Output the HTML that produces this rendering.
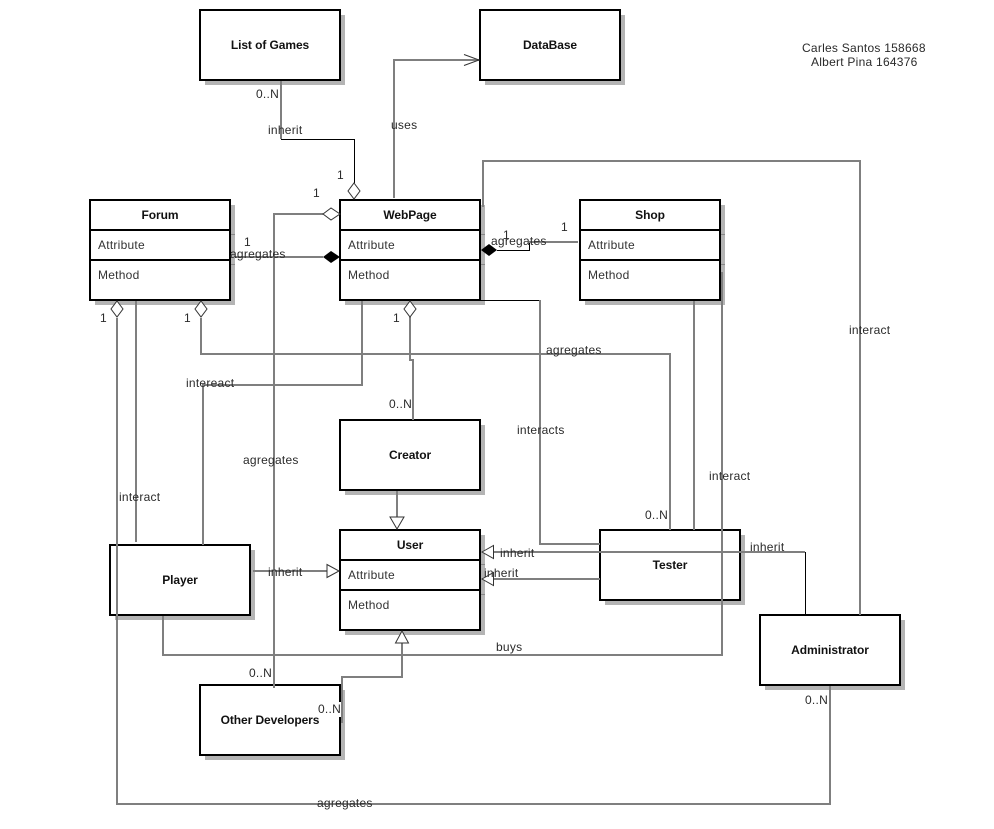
<!DOCTYPE html>
<html><head><meta charset="utf-8"><style>
html,body{margin:0;padding:0;background:#fff;width:994px;height:829px;overflow:hidden}
svg{display:block}
text{font-family:"Liberation Sans",Arial,sans-serif;font-size:12px;fill:#2a2a2a;letter-spacing:.25px}
.b{font-weight:bold;fill:#111;letter-spacing:-.08px;text-anchor:middle}
.a{fill:#333}
.s{fill:#b4b4b4;stroke:none}
.r{fill:#fff;stroke:#000;stroke-width:2}
.l{fill:none;stroke:#7f7f7f;stroke-width:2;shape-rendering:crispEdges}
.t{fill:none;stroke:#000;stroke-width:1}
.h{fill:#fff;stroke:#333;stroke-width:1}
.k{stroke:#888;stroke-width:1}
</style></head><body>
<svg width="994" height="829" viewBox="0 0 994 829" xmlns="http://www.w3.org/2000/svg">
<rect width="994" height="829" fill="#fff"/>
<!-- shadows -->
<rect class="s" x="205" y="15" width="140" height="70"/>
<rect class="s" x="485" y="15" width="140" height="70"/>
<rect class="s" x="95" y="205" width="140" height="100"/>
<rect class="s" x="345" y="205" width="140" height="100"/>
<rect class="s" x="585" y="205" width="140" height="100"/>
<rect class="s" x="345" y="425" width="140" height="70"/>
<rect class="s" x="345" y="535" width="140" height="100"/>
<rect class="s" x="605" y="535" width="140" height="70"/>
<rect class="s" x="115" y="550" width="140" height="70"/>
<rect class="s" x="205" y="690" width="140" height="70"/>
<rect class="s" x="765" y="620" width="140" height="70"/>
<!-- shadow ticks -->
<path class="k" d="M230 234.500H235M230 264.500H235M480 234.500H485M480 264.500H485M720 234.500H725M720 264.500H725M480 564.500H485M480 594.500H485"/>
<!-- boxes -->
<rect class="r" x="200" y="10" width="140" height="70"/>
<rect class="r" x="480" y="10" width="140" height="70"/>
<rect class="r" x="90" y="200" width="140" height="100"/>
<path d="M90 230H230M90 260H230" stroke="#000" stroke-width="2"/>
<rect class="r" x="340" y="200" width="140" height="100"/>
<path d="M340 230H480M340 260H480" stroke="#000" stroke-width="2"/>
<rect class="r" x="580" y="200" width="140" height="100"/>
<path d="M580 230H720M580 260H720" stroke="#000" stroke-width="2"/>
<rect class="r" x="340" y="420" width="140" height="70"/>
<rect class="r" x="340" y="530" width="140" height="100"/>
<path d="M340 560H480M340 590H480" stroke="#000" stroke-width="2"/>
<rect class="r" x="600" y="530" width="140" height="70"/>
<rect class="r" x="110" y="545" width="140" height="70"/>
<rect class="r" x="200" y="685" width="140" height="70"/>
<rect class="r" x="760" y="615" width="140" height="70"/>
<!-- connectors -->
<path class="l" d="M281 81V139"/>
<path class="t" d="M281 139.500H354.500V183"/>
<path class="l" d="M394 198V60H479"/>
<path fill="none" stroke="#333" stroke-width="1" d="M464 54.500L479 60L464 65.500"/>
<path class="l" d="M323 214H274V688"/>
<path class="l" d="M235 257H323"/>
<path class="t" d="M497 250.500H529.500V242"/>
<path class="l" d="M529 242H578"/>
<path class="t" d="M480 300.500H540"/>
<path class="l" d="M540 300V544H600"/>
<path class="l" d="M483 207V161H860V615"/>
<path class="l" d="M117 318V804H830V686"/>
<path class="l" d="M201 318V354H670V530"/>
<path class="l" d="M136 301V542"/>
<path class="l" d="M362 301V385H203V545"/>
<path class="l" d="M410 317V360H413V420"/>
<path class="l" d="M397 491V517"/>
<path class="l" d="M253 571H327"/>
<path class="l" d="M493 552H805"/>
<path class="t" d="M805.500 552V615"/>
<path class="l" d="M493 579H600"/>
<path class="l" d="M694 301V530"/>
<path class="l" d="M722 272V655H163V616"/>
<path class="l" d="M402 643V677H342V723"/>
<!-- white gap on Other Developers border -->
<rect x="339" y="702" width="2" height="15" fill="#fff"/>
<!-- diamonds -->
<polygon class="h" points="354,183 360,191 354,199 348,191"/>
<polygon class="h" points="323,214 331,208 340,214 331,220"/>
<polygon points="323,257 331,251 340,257 331,263" fill="#000"/>
<polygon points="481,250 489,244 497,250 489,256" fill="#000"/>
<polygon class="h" points="117,301 123,309 117,317 111,309"/>
<polygon class="h" points="201,301 207,309 201,317 195,309"/>
<polygon class="h" points="410,301 416,309 410,317 404,309"/>
<!-- triangles -->
<polygon class="h" points="390,517 404,517 397,529"/>
<polygon class="h" points="327,564.500 327,577.500 339,571"/>
<polygon class="h" points="482,552 493.500,545.500 493.500,558.500"/>
<polygon class="h" points="482,579 493.500,572.500 493.500,585.500"/>
<polygon class="h" points="402,631 395.500,643 408.500,643"/>
<!-- names -->
<text class="b" x="270" y="49">List of Games</text>
<text class="b" x="550" y="49">DataBase</text>
<text class="b" x="160" y="219">Forum</text>
<text class="b" x="410" y="219">WebPage</text>
<text class="b" x="650" y="219">Shop</text>
<text class="b" x="410" y="459">Creator</text>
<text class="b" x="410" y="549">User</text>
<text class="b" x="670" y="569">Tester</text>
<text class="b" x="180" y="584">Player</text>
<text class="b" x="270" y="724">Other Developers</text>
<text class="b" x="830" y="654">Administrator</text>
<!-- attributes -->
<text class="a" x="98" y="249">Attribute</text>
<text class="a" x="98" y="279">Method</text>
<text class="a" x="348" y="249">Attribute</text>
<text class="a" x="348" y="279">Method</text>
<text class="a" x="588" y="249">Attribute</text>
<text class="a" x="588" y="279">Method</text>
<text class="a" x="348" y="579">Attribute</text>
<text class="a" x="348" y="609">Method</text>
<!-- labels -->
<text x="802" y="52">Carles Santos 158668</text>
<text x="811" y="66">Albert Pina 164376</text>
<text x="256" y="98">0..N</text>
<text x="268" y="134">inherit</text>
<text x="391" y="129">uses</text>
<text x="337" y="179">1</text>
<text x="313" y="197">1</text>
<text x="244" y="246">1</text>
<text x="230" y="258">agregates</text>
<text x="503" y="239">1</text>
<text x="491" y="245">agregates</text>
<text x="561" y="231">1</text>
<text x="100" y="322">1</text>
<text x="184" y="322">1</text>
<text x="393" y="322">1</text>
<text x="546" y="354">agregates</text>
<text x="849" y="334">interact</text>
<text x="186" y="387">intereact</text>
<text x="389" y="408">0..N</text>
<text x="517" y="434">interacts</text>
<text x="243" y="464">agregates</text>
<text x="709" y="480">interact</text>
<text x="119" y="501">interact</text>
<text x="645" y="519">0..N</text>
<text x="750" y="551">inherit</text>
<text x="500" y="557">inherit</text>
<text x="484" y="577">inherit</text>
<text x="268" y="576">inherit</text>
<text x="496" y="651">buys</text>
<text x="249" y="677">0..N</text>
<text x="318" y="713">0..N</text>
<text x="805" y="704">0..N</text>
<text x="317" y="807">agregates</text>
</svg>
</body></html>
